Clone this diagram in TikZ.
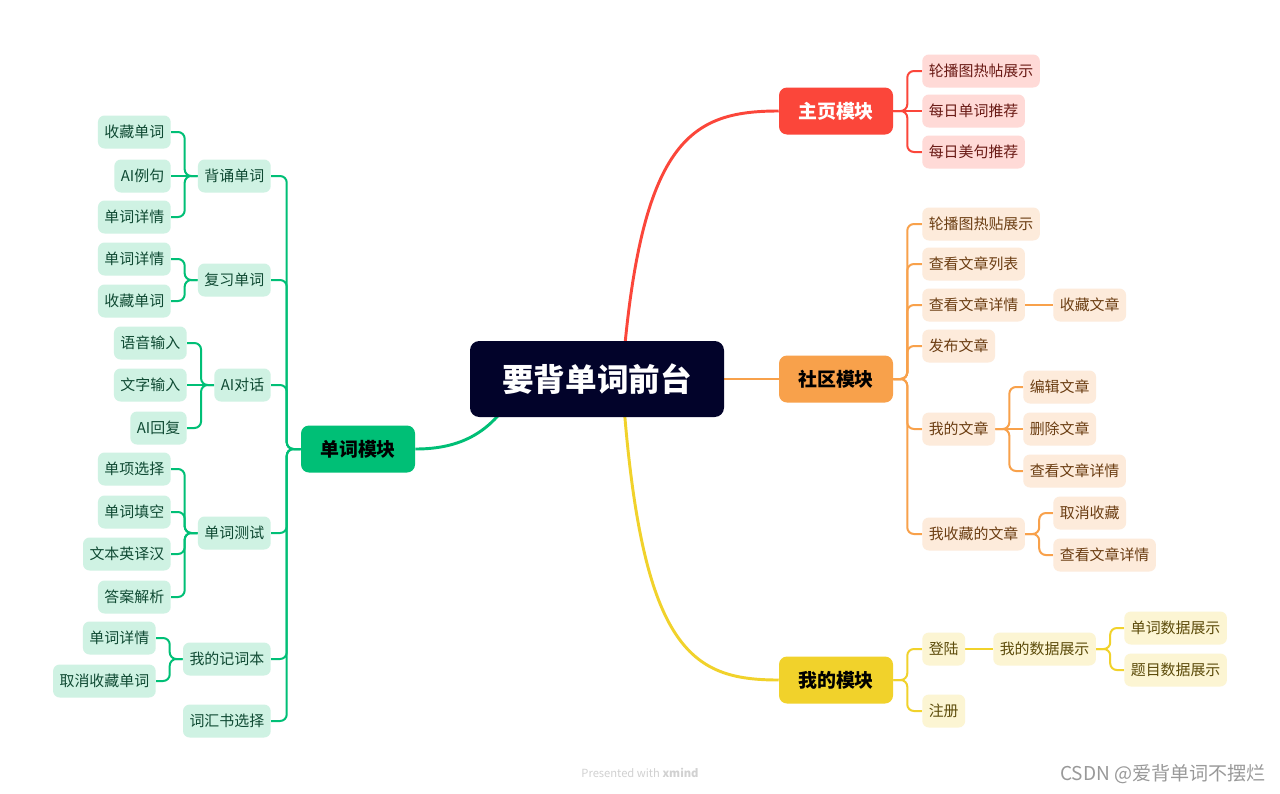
\documentclass[tikz,border=0pt]{standalone}
\usepackage{fontspec}
\setmainfont{Noto Sans CJK SC}
\usetikzlibrary{backgrounds,calc}
\definecolor{cdark}{HTML}{02032A}
\definecolor{cred}{HTML}{FB463A}
\definecolor{credl}{HTML}{FFDAD7}
\definecolor{credt}{HTML}{6A1A15}
\definecolor{corg}{HTML}{F8A14B}
\definecolor{corgl}{HTML}{FDEBDB}
\definecolor{corgt}{HTML}{6B3D12}
\definecolor{cyel}{HTML}{F1D22B}
\definecolor{cyell}{HTML}{FCF5D3}
\definecolor{cyelt}{HTML}{5C4B0A}
\definecolor{cgrn}{HTML}{00BF76}
\definecolor{cgrnl}{HTML}{CFF2E3}
\definecolor{cgrnt}{HTML}{0F4A33}
\begin{document}
\begin{tikzpicture}[x=0.75pt,y=-0.75pt,
  leaf/.style={rounded corners=5pt, inner xsep=4.9pt, inner ysep=0pt, minimum height=24.75pt, font=\fontsize{11.2}{13}\selectfont},
  rleaf/.style={leaf, fill=credl, text=credt, anchor=west},
  oleaf/.style={leaf, fill=corgl, text=corgt, anchor=west},
  yleaf/.style={leaf, fill=cyell, text=cyelt, anchor=west},
  gleaf/.style={leaf, fill=cgrnl, text=cgrnt, anchor=east},
  mainbox/.style={rounded corners=6pt, minimum width=85.5pt, minimum height=35.25pt, inner sep=0pt, font=\fontsize{14.2}{16}\selectfont\bfseries},
  rline/.style={draw=cred, line width=1.5pt, rounded corners=5pt},
  oline/.style={draw=corg, line width=1.5pt, rounded corners=5pt},
  yline/.style={draw=cyel, line width=1.5pt, rounded corners=5pt},
  gline/.style={draw=cgrn, line width=1.5pt, rounded corners=5pt},
]
\useasboundingbox (0,0) rectangle (1280,793);

% center
\node[fill=cdark, text=white, rounded corners=7pt, minimum width=190.5pt, minimum height=57pt, inner sep=0pt, font=\fontsize{23.7}{26}\selectfont\bfseries] (c) at (597,379) {要背单词前台};

% main branches
\node[mainbox, fill=cred, text=white] (h) at (836,111) {主页模块};
\node[mainbox, fill=corg, text=black] (s) at (836,379) {社区模块};
\node[mainbox, fill=cyel, text=black] (m) at (836,680) {我的模块};
\node[mainbox, fill=cgrn, text=black] (w) at (358,449) {单词模块};

% red leaves
\node[rleaf] (h1) at (922,71) {轮播图热帖展示};
\node[rleaf] (h2) at (922,111) {每日单词推荐};
\node[rleaf] (h3) at (922,152) {每日美句推荐};

% orange leaves
\node[oleaf] (s1) at (922,224) {轮播图热贴展示};
\node[oleaf] (s2) at (922,264) {查看文章列表};
\node[oleaf] (s3) at (922,305) {查看文章详情};
\node[oleaf] (s3a) at (1053,305) {收藏文章};
\node[oleaf] (s4) at (922,346) {发布文章};
\node[oleaf] (s5) at (922,429) {我的文章};
\node[oleaf] (s5a) at (1023,387) {编辑文章};
\node[oleaf] (s5b) at (1023,429) {删除文章};
\node[oleaf] (s5c) at (1023,471) {查看文章详情};
\node[oleaf] (s6) at (922,534) {我收藏的文章};
\node[oleaf] (s6a) at (1053,513) {取消收藏};
\node[oleaf] (s6b) at (1053,555) {查看文章详情};

% yellow leaves
\node[yleaf] (m1) at (922,649) {登陆};
\node[yleaf] (m1a) at (993,649) {我的数据展示};
\node[yleaf] (m1a1) at (1124,628) {单词数据展示};
\node[yleaf] (m1a2) at (1124,670) {题目数据展示};
\node[yleaf] (m2) at (922,711) {注册};

% green leaves
\node[gleaf] (w1) at (271,176) {背诵单词};
\node[gleaf] (w1a) at (171,132) {收藏单词};
\node[gleaf] (w1b) at (171,176) {AI例句};
\node[gleaf] (w1c) at (171,217) {单词详情};
\node[gleaf] (w2) at (271,280) {复习单词};
\node[gleaf] (w2a) at (171,259) {单词详情};
\node[gleaf] (w2b) at (171,301) {收藏单词};
\node[gleaf] (w3) at (271,385) {AI对话};
\node[gleaf] (w3a) at (187,343) {语音输入};
\node[gleaf] (w3b) at (187,385) {文字输入};
\node[gleaf] (w3c) at (187,428) {AI回复};
\node[gleaf] (w4) at (271,533) {单词测试};
\node[gleaf] (w4a) at (171,469) {单项选择};
\node[gleaf] (w4b) at (171,512) {单词填空};
\node[gleaf] (w4c) at (171,554) {文本英译汉};
\node[gleaf] (w4d) at (171,597) {答案解析};
\node[gleaf] (w5) at (271,659) {我的记词本};
\node[gleaf] (w5a) at (156,638) {单词详情};
\node[gleaf] (w5b) at (156,681) {取消收藏单词};
\node[gleaf] (w6) at (271,721) {词汇书选择};

% watermarks
\node[text=black!18, font=\fontsize{8.4}{10}\selectfont] (pw) at (640,773) {Presented with \textbf{xmind}};
\node[text=black!40, anchor=east, font=\fontsize{14.3}{16}\selectfont, inner sep=0pt] (csdn) at (1266,774) {CSDN @爱背单词不摆烂};

\begin{scope}[on background layer]
  \fill[white] (0,0) rectangle (1280,793);
  % main curves
  \draw[cred, line width=2.2pt] ($(c.center)+(25,0)$) .. controls (640,140) and (690,111) .. (h.west);
  \draw[corg, line width=2.2pt] (c.east) -- (s.west);
  \draw[cyel, line width=2.2pt] ($(c.center)+(25,0)$) .. controls (640,650) and (690,680) .. (m.west);
  \draw[cgrn, line width=2.2pt] ($(c.center)+(-77,0)$) .. controls (495,440) and (450,449) .. (w.east);

  % red
  \draw[rline] (h.east) -- ++(14,0) |- (h1.west);
  \draw[rline] (h.east) -- (h2.west);
  \draw[rline] (h.east) -- ++(14,0) |- (h3.west);

  % orange
  \foreach \n in {s1,s2,s3,s4,s5,s6} {\draw[oline] (s.east) -- ++(14,0) |- (\n.west);}
  \draw[oline] (s3.east) -- (s3a.west);
  \draw[oline] (s5.east) -- ++(14,0) |- (s5a.west);
  \draw[oline] (s5.east) -- (s5b.west);
  \draw[oline] (s5.east) -- ++(14,0) |- (s5c.west);
  \draw[oline] (s6.east) -- ++(14,0) |- (s6a.west);
  \draw[oline] (s6.east) -- ++(14,0) |- (s6b.west);

  % yellow
  \draw[yline] (m.east) -- ++(14,0) |- (m1.west);
  \draw[yline] (m.east) -- ++(14,0) |- (m2.west);
  \draw[yline] (m1.east) -- (m1a.west);
  \draw[yline] (m1a.east) -- ++(14,0) |- (m1a1.west);
  \draw[yline] (m1a.east) -- ++(14,0) |- (m1a2.west);

  % green
  \foreach \n in {w1,w2,w3,w4,w5,w6} {\draw[gline] (w.west) -- ++(-14,0) |- (\n.east);}
  \draw[gline] (w1.west) -- ++(-13,0) |- (w1a.east);
  \draw[gline] (w1.west) -- (w1b.east);
  \draw[gline] (w1.west) -- ++(-13,0) |- (w1c.east);
  \draw[gline] (w2.west) -- ++(-13,0) |- (w2a.east);
  \draw[gline] (w2.west) -- ++(-13,0) |- (w2b.east);
  \draw[gline] (w3.west) -- ++(-13,0) |- (w3a.east);
  \draw[gline] (w3.west) -- (w3b.east);
  \draw[gline] (w3.west) -- ++(-13,0) |- (w3c.east);
  \foreach \n in {w4a,w4b,w4c,w4d} {\draw[gline] (w4.west) -- ++(-13,0) |- (\n.east);}
  \draw[gline] (w5.west) -- ++(-13,0) |- (w5a.east);
  \draw[gline] (w5.west) -- ++(-13,0) |- (w5b.east);
\end{scope}
\end{tikzpicture}
\end{document}
